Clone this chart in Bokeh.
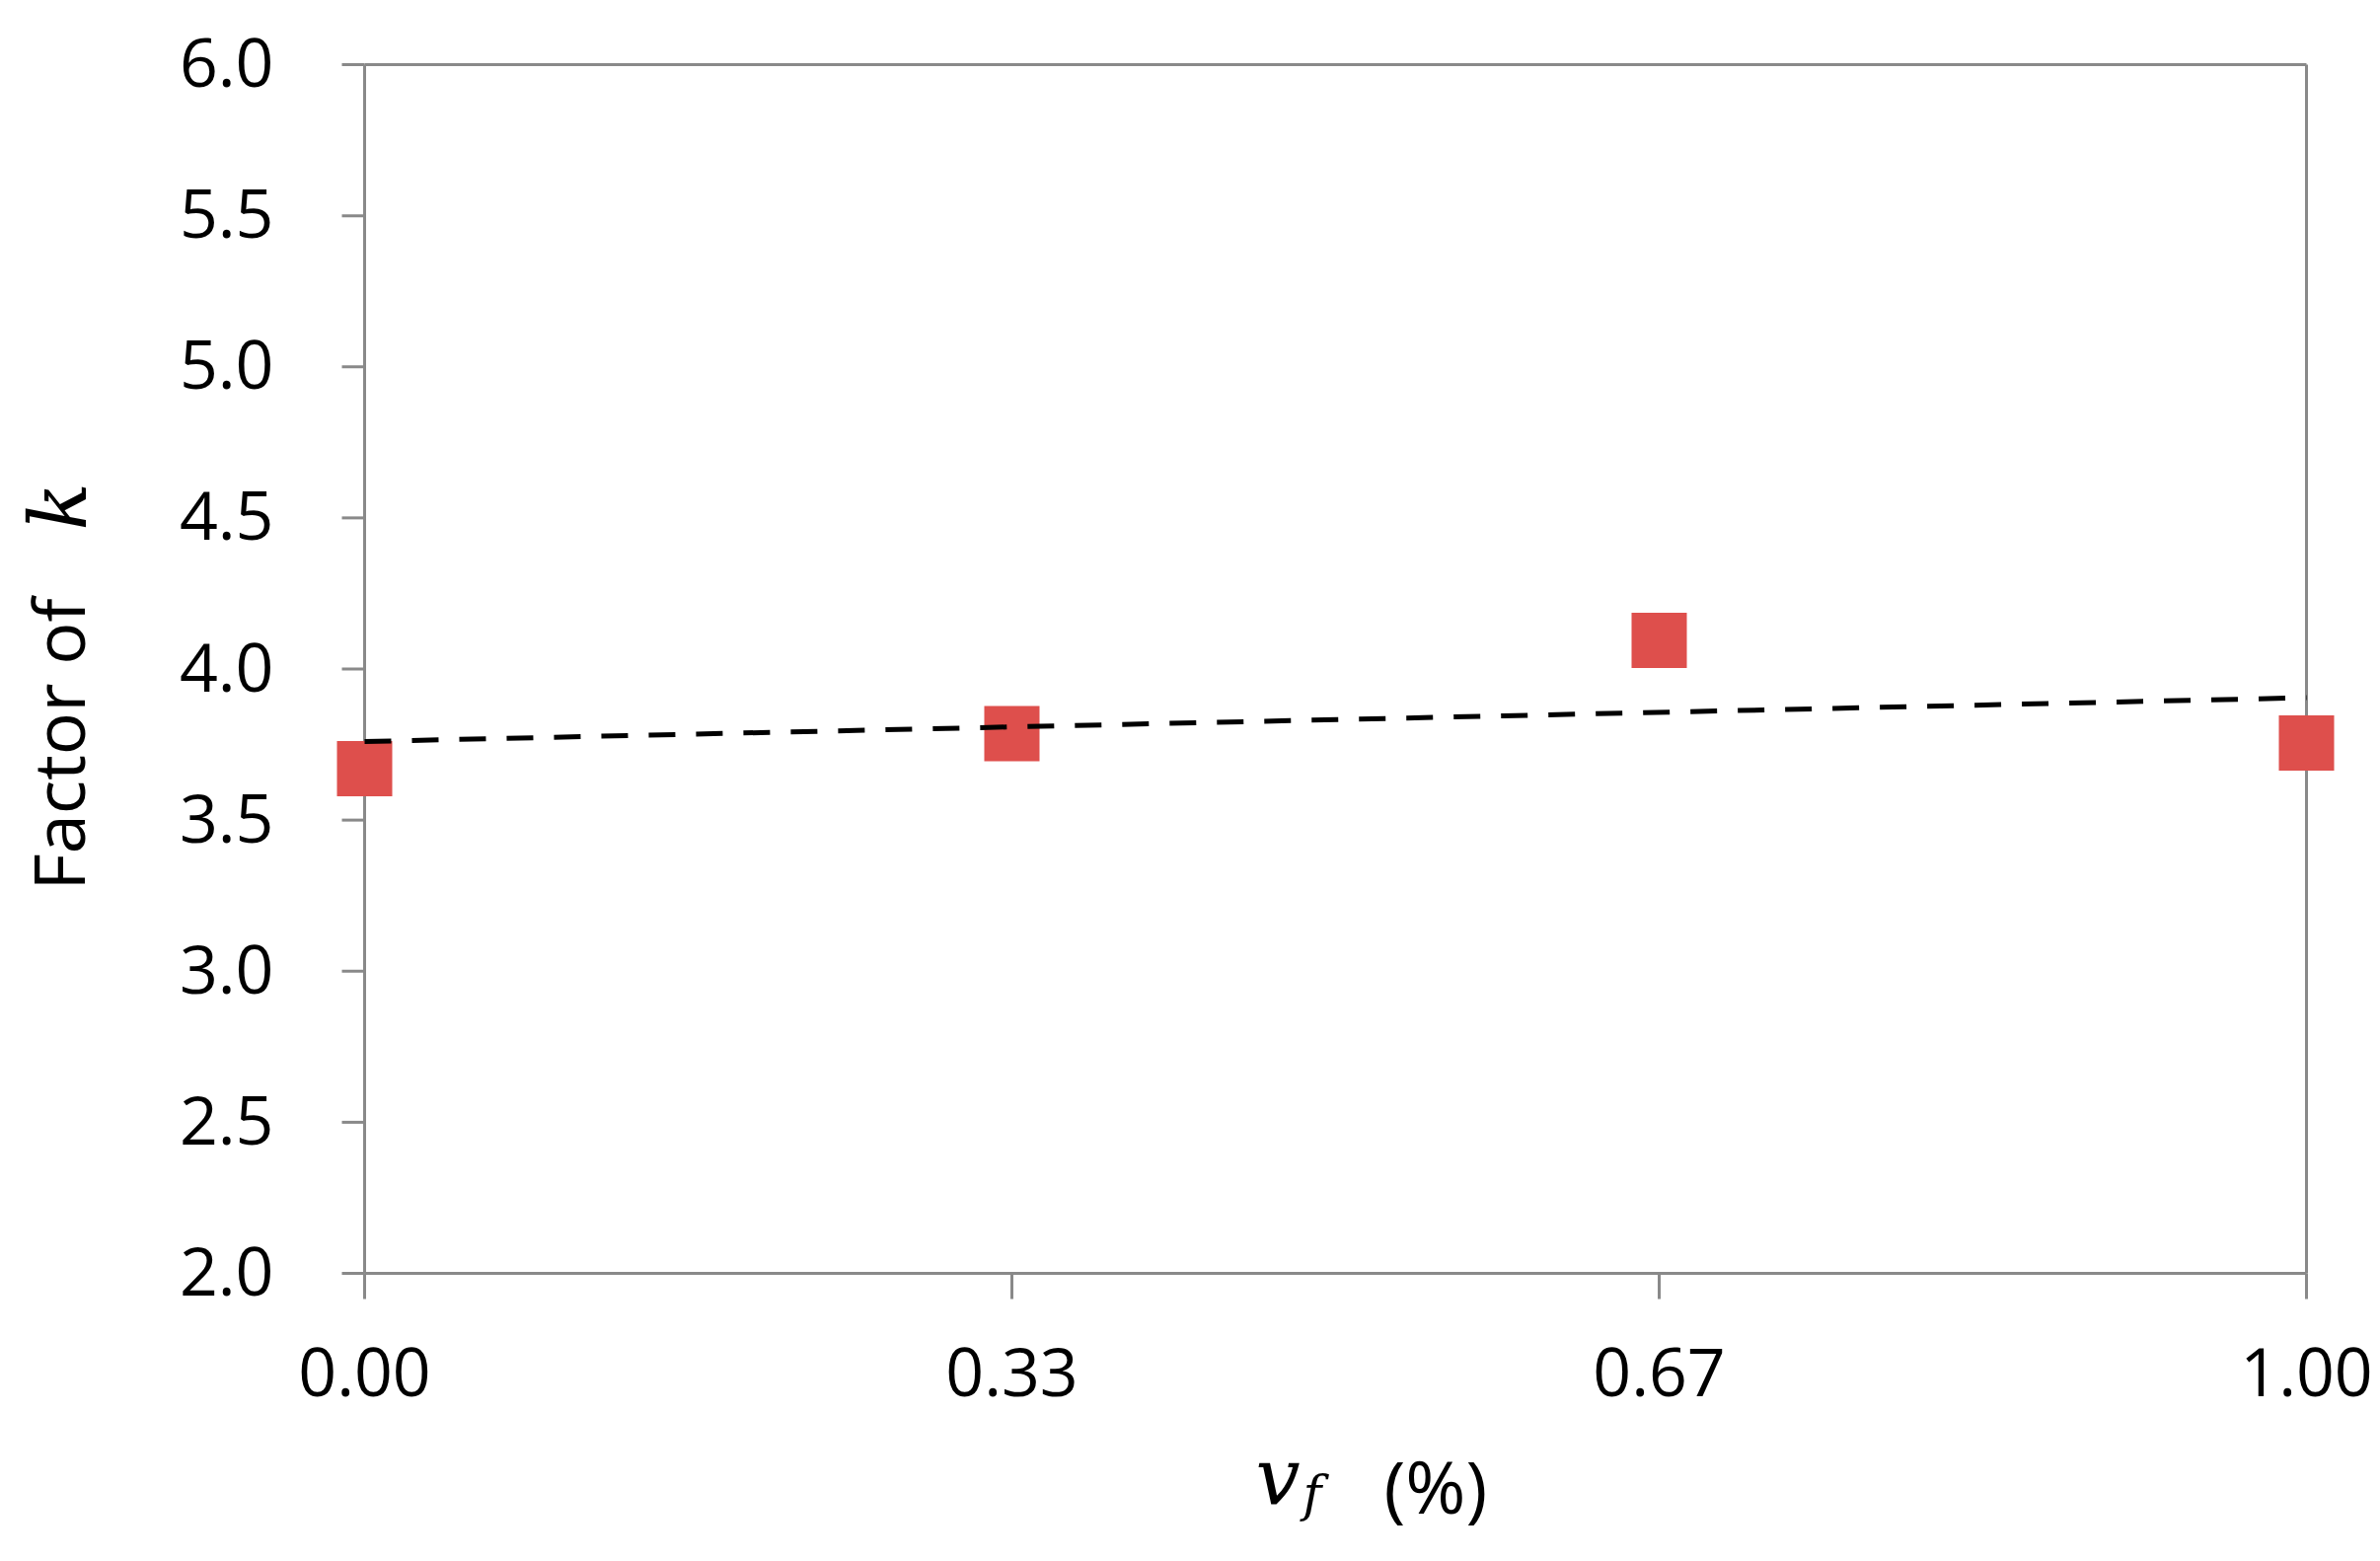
from bokeh.plotting import figure
from bokeh.models import Range1d
from bokeh.core.properties import value
from bokeh.embed import file_html
from bokeh.resources import INLINE

# ---- data ----
categories = ["0.00", "0.33", "0.67", "1.00"]
factor_k = [3.67, 3.786, 4.095, 3.755]
trend_ends = [3.76, 3.905]
y_ticks = [2.0, 2.5, 3.0, 3.5, 4.0, 4.5, 5.0, 5.5, 6.0]
y_tick_labels = ["2.0", "2.5", "3.0", "3.5", "4.0", "4.5", "5.0", "5.5", "6.0"]
y_min, y_max = 2.0, 6.0

xs = list(range(len(categories)))

# ---- layout (page pixels) ----
W, H = 2412, 1582
X0_PX, X1_PX = 369, 2337       # where first / last category sit
Y_TOP_PX, Y_BOT_PX = 65, 1290  # where y_max / y_min sit

px_per_x = (X1_PX - X0_PX) / (xs[-1] - xs[0])
px_per_y = (Y_BOT_PX - Y_TOP_PX) / (y_max - y_min)


def dx(px):
    return xs[0] + (px - X0_PX) / px_per_x


def dy(py):
    return y_min + (Y_BOT_PX - py) / px_per_y


AXIS_COLOR = "#898989"
FONT = "Open Sans"
SERIF = "DejaVu Serif"
TICK_Y_LEN = 23
TICK_X_LEN = 26

p = figure(
    width=W, height=H,
    output_backend="svg", toolbar_location=None,
    x_range=Range1d(dx(0), dx(W)),
    y_range=Range1d(dy(H), dy(0)),
    x_axis_location=None, y_axis_location=None,
    min_border=0, min_border_left=0, min_border_right=0,
    min_border_top=0, min_border_bottom=0,
)
p.outline_line_color = None
p.grid.visible = False
p.background_fill_color = "white"
p.border_fill_color = "white"

# plot-area box
p.segment(x0=[xs[0], xs[0], xs[0], xs[-1]], y0=[y_min, y_min, y_max, y_min],
          x1=[xs[0], xs[-1], xs[-1], xs[-1]], y1=[y_max, y_min, y_max, y_max],
          line_color=AXIS_COLOR, line_width=3)
# tick marks
p.segment(x0=[dx(X0_PX - TICK_Y_LEN)] * len(y_ticks), y0=y_ticks,
          x1=[xs[0]] * len(y_ticks), y1=y_ticks, line_color=AXIS_COLOR, line_width=3)
p.segment(x0=xs, y0=[dy(Y_BOT_PX + TICK_X_LEN)] * len(xs), x1=xs, y1=[y_min] * len(xs),
          line_color=AXIS_COLOR, line_width=3)

# tick labels
p.text(x=[xs[0]] * len(y_ticks), y=y_ticks, text=y_tick_labels,
       x_offset=-92, y_offset=-2,
       text_font=value(FONT), text_font_size="68px", text_color="black",
       text_align="right", text_baseline="alphabetic")
p.text(x=xs, y=[y_min] * len(xs), text=categories,
       y_offset=100,
       text_font=value(FONT), text_font_size="68px", text_color="black",
       text_align="center", text_baseline="alphabetic")

# data points
p.scatter(xs, factor_k, marker="square", size=56, fill_color="#DE4F4C", line_color=None)

# linear trend line
p.line([xs[0], xs[-1]], trend_ends, line_color="black", line_width=5, line_dash="27 21")

# axis titles (mixed fonts)
common = dict(text_color="black", text_align="left", text_baseline="alphabetic")
p.text(x=[dx(57)], y=[dy(902)], text=["Factor of"], angle=90, angle_units="deg",
       text_font=value(FONT), text_font_size="72px", **common)
p.text(x=[dx(59)], y=[dy(537)], text=["k"], angle=90, angle_units="deg",
       text_font=value(SERIF), text_font_style=value("italic"), text_font_size="80px",
       **common)
p.text(x=[dx(1272)], y=[dy(1497)], text=["v"],
       text_font=value(SERIF), text_font_style=value("italic"), text_font_size="80px",
       **common)
p.text(x=[dx(1320)], y=[dy(1513)], text=["f"],
       text_font=value(SERIF), text_font_style=value("italic"), text_font_size="51px",
       **common)
p.text(x=[dx(1402)], y=[dy(1505)], text=["(%)"],
       text_font=value(FONT), text_font_size="74px", **common)

open("out.html", "w").write(file_html(p, INLINE))
